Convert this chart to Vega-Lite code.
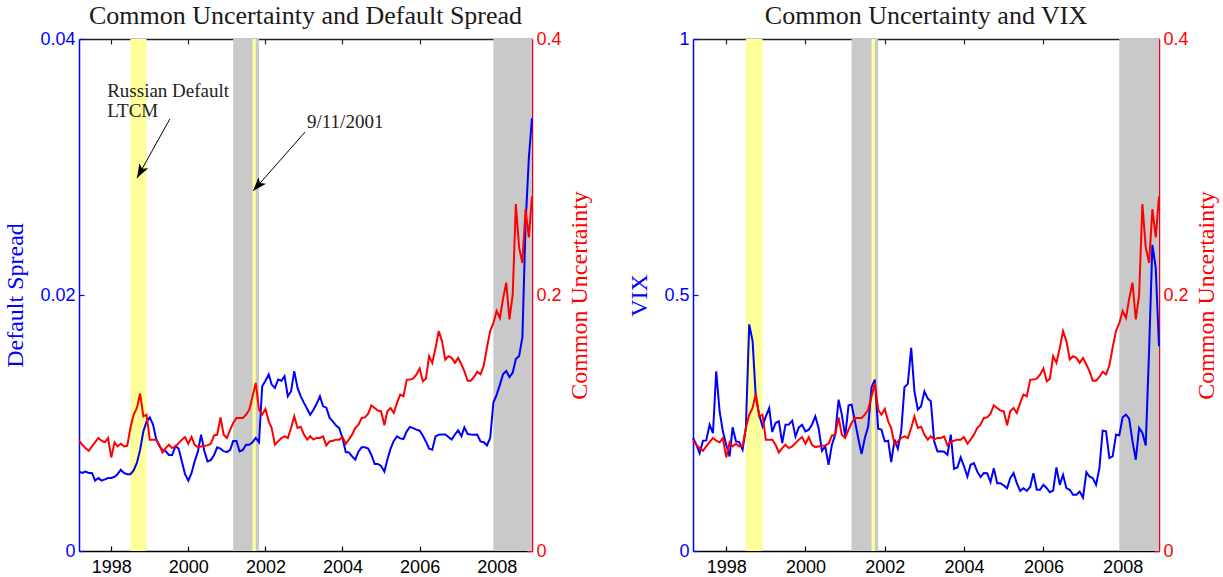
{
  "$schema": "https://vega.github.io/schema/vega-lite/v6.json",
  "background": "white",
  "padding": {"left": 3, "top": 3, "right": 2, "bottom": 2},
  "datasets": {
    "series": [
      {"d":"1997-03","ds":0.0062,"cu":0.0862,"vix":0.2206},
      {"d":"1997-04","ds":0.0061,"cu":0.083,"vix":0.2076},
      {"d":"1997-05","ds":0.0062,"cu":0.0804,"vix":0.191},
      {"d":"1997-06","ds":0.0061,"cu":0.0783,"vix":0.2154},
      {"d":"1997-07","ds":0.0061,"cu":0.0817,"vix":0.216},
      {"d":"1997-08","ds":0.0055,"cu":0.0851,"vix":0.2467},
      {"d":"1997-09","ds":0.0057,"cu":0.0883,"vix":0.23},
      {"d":"1997-10","ds":0.0055,"cu":0.0862,"vix":0.351},
      {"d":"1997-11","ds":0.0056,"cu":0.0849,"vix":0.273},
      {"d":"1997-12","ds":0.0057,"cu":0.0883,"vix":0.2337},
      {"d":"1998-01","ds":0.0057,"cu":0.0731,"vix":0.2076},
      {"d":"1998-02","ds":0.0058,"cu":0.0849,"vix":0.1847},
      {"d":"1998-03","ds":0.006,"cu":0.0817,"vix":0.2415},
      {"d":"1998-04","ds":0.00635,"cu":0.0838,"vix":0.214},
      {"d":"1998-05","ds":0.0061,"cu":0.0817,"vix":0.2128},
      {"d":"1998-06","ds":0.006,"cu":0.0822,"vix":0.1978},
      {"d":"1998-07","ds":0.006,"cu":0.0961,"vix":0.2402},
      {"d":"1998-08","ds":0.0063,"cu":0.1065,"vix":0.4426},
      {"d":"1998-09","ds":0.0069,"cu":0.1117,"vix":0.41},
      {"d":"1998-10","ds":0.0079,"cu":0.123,"vix":0.299},
      {"d":"1998-11","ds":0.00935,"cu":0.1052,"vix":0.2663},
      {"d":"1998-12","ds":0.0101,"cu":0.1065,"vix":0.2435},
      {"d":"1999-01","ds":0.01044,"cu":0.087,"vix":0.263},
      {"d":"1999-02","ds":0.00987,"cu":0.087,"vix":0.279},
      {"d":"1999-03","ds":0.0088,"cu":0.087,"vix":0.2324},
      {"d":"1999-04","ds":0.0082,"cu":0.083,"vix":0.25},
      {"d":"1999-05","ds":0.0079,"cu":0.077,"vix":0.2533},
      {"d":"1999-06","ds":0.00778,"cu":0.0804,"vix":0.2108},
      {"d":"1999-07","ds":0.0075,"cu":0.083,"vix":0.2467},
      {"d":"1999-08","ds":0.0075,"cu":0.0804,"vix":0.247},
      {"d":"1999-09","ds":0.0082,"cu":0.0817,"vix":0.2546},
      {"d":"1999-10","ds":0.008,"cu":0.0843,"vix":0.2239},
      {"d":"1999-11","ds":0.007,"cu":0.087,"vix":0.2415},
      {"d":"1999-12","ds":0.006,"cu":0.089,"vix":0.2467},
      {"d":"2000-01","ds":0.0055,"cu":0.0838,"vix":0.2337},
      {"d":"2000-02","ds":0.0061,"cu":0.089,"vix":0.237},
      {"d":"2000-03","ds":0.007,"cu":0.083,"vix":0.2467},
      {"d":"2000-04","ds":0.00778,"cu":0.0812,"vix":0.263},
      {"d":"2000-05","ds":0.00909,"cu":0.0817,"vix":0.2402},
      {"d":"2000-06","ds":0.0078,"cu":0.0822,"vix":0.1958},
      {"d":"2000-07","ds":0.007,"cu":0.0825,"vix":0.2043},
      {"d":"2000-08","ds":0.0071,"cu":0.0838,"vix":0.1684},
      {"d":"2000-09","ds":0.0075,"cu":0.0903,"vix":0.2076},
      {"d":"2000-10","ds":0.0081,"cu":0.0909,"vix":0.2272},
      {"d":"2000-11","ds":0.008,"cu":0.1044,"vix":0.2957},
      {"d":"2000-12","ds":0.0078,"cu":0.0909,"vix":0.2663},
      {"d":"2001-01","ds":0.00773,"cu":0.0883,"vix":0.2239},
      {"d":"2001-02","ds":0.0079,"cu":0.0948,"vix":0.2846},
      {"d":"2001-03","ds":0.0086,"cu":0.1,"vix":0.2859},
      {"d":"2001-04","ds":0.0086,"cu":0.1039,"vix":0.2533},
      {"d":"2001-05","ds":0.00778,"cu":0.1039,"vix":0.2206},
      {"d":"2001-06","ds":0.0079,"cu":0.1039,"vix":0.1893},
      {"d":"2001-07","ds":0.0083,"cu":0.1065,"vix":0.2206},
      {"d":"2001-08","ds":0.0083,"cu":0.1104,"vix":0.2435},
      {"d":"2001-09","ds":0.0085,"cu":0.1209,"vix":0.32},
      {"d":"2001-10","ds":0.00883,"cu":0.1313,"vix":0.3349},
      {"d":"2001-11","ds":0.0085,"cu":0.1104,"vix":0.2389},
      {"d":"2001-12","ds":0.01287,"cu":0.1065,"vix":0.237},
      {"d":"2002-01","ds":0.0133,"cu":0.111,"vix":0.214},
      {"d":"2002-02","ds":0.01379,"cu":0.1013,"vix":0.2154},
      {"d":"2002-03","ds":0.013,"cu":0.0961,"vix":0.1736},
      {"d":"2002-04","ds":0.01274,"cu":0.083,"vix":0.2174},
      {"d":"2002-05","ds":0.0134,"cu":0.0856,"vix":0.1997},
      {"d":"2002-06","ds":0.0133,"cu":0.0883,"vix":0.2337},
      {"d":"2002-07","ds":0.01366,"cu":0.0896,"vix":0.32},
      {"d":"2002-08","ds":0.01209,"cu":0.0883,"vix":0.3264},
      {"d":"2002-09","ds":0.01248,"cu":0.0961,"vix":0.3969},
      {"d":"2002-10","ds":0.01405,"cu":0.1052,"vix":0.312},
      {"d":"2002-11","ds":0.01274,"cu":0.0961,"vix":0.276},
      {"d":"2002-12","ds":0.0121,"cu":0.0971,"vix":0.2826},
      {"d":"2003-01","ds":0.01157,"cu":0.0909,"vix":0.312},
      {"d":"2003-02","ds":0.0111,"cu":0.087,"vix":0.2977},
      {"d":"2003-03","ds":0.01065,"cu":0.0896,"vix":0.2924},
      {"d":"2003-04","ds":0.01104,"cu":0.087,"vix":0.214},
      {"d":"2003-05","ds":0.0115,"cu":0.0883,"vix":0.1945},
      {"d":"2003-06","ds":0.01209,"cu":0.0883,"vix":0.195},
      {"d":"2003-07","ds":0.0113,"cu":0.0896,"vix":0.194},
      {"d":"2003-08","ds":0.0112,"cu":0.0825,"vix":0.188},
      {"d":"2003-09","ds":0.0104,"cu":0.0856,"vix":0.2272},
      {"d":"2003-10","ds":0.01013,"cu":0.0862,"vix":0.1606},
      {"d":"2003-11","ds":0.0098,"cu":0.087,"vix":0.1632},
      {"d":"2003-12","ds":0.0096,"cu":0.087,"vix":0.1828},
      {"d":"2004-01","ds":0.00883,"cu":0.089,"vix":0.1651},
      {"d":"2004-02","ds":0.00773,"cu":0.0838,"vix":0.1456},
      {"d":"2004-03","ds":0.0077,"cu":0.087,"vix":0.1684},
      {"d":"2004-04","ds":0.00739,"cu":0.0909,"vix":0.1717},
      {"d":"2004-05","ds":0.00713,"cu":0.0961,"vix":0.1554},
      {"d":"2004-06","ds":0.00778,"cu":0.0987,"vix":0.1443},
      {"d":"2004-07","ds":0.0081,"cu":0.1039,"vix":0.1521},
      {"d":"2004-08","ds":0.0081,"cu":0.1044,"vix":0.152},
      {"d":"2004-09","ds":0.008,"cu":0.1073,"vix":0.1345},
      {"d":"2004-10","ds":0.0075,"cu":0.1138,"vix":0.1619},
      {"d":"2004-11","ds":0.00679,"cu":0.1117,"vix":0.1325},
      {"d":"2004-12","ds":0.0068,"cu":0.1097,"vix":0.1325},
      {"d":"2005-01","ds":0.00665,"cu":0.1091,"vix":0.128},
      {"d":"2005-02","ds":0.00621,"cu":0.0982,"vix":0.1227},
      {"d":"2005-03","ds":0.00713,"cu":0.1091,"vix":0.1423},
      {"d":"2005-04","ds":0.008,"cu":0.1117,"vix":0.1521},
      {"d":"2005-05","ds":0.0086,"cu":0.1078,"vix":0.1325},
      {"d":"2005-06","ds":0.00896,"cu":0.1157,"vix":0.1175},
      {"d":"2005-07","ds":0.0088,"cu":0.1222,"vix":0.1227},
      {"d":"2005-08","ds":0.00875,"cu":0.1209,"vix":0.1175},
      {"d":"2005-09","ds":0.00935,"cu":0.1337,"vix":0.125},
      {"d":"2005-10","ds":0.00969,"cu":0.1339,"vix":0.1521},
      {"d":"2005-11","ds":0.0096,"cu":0.1347,"vix":0.1195},
      {"d":"2005-12","ds":0.00948,"cu":0.1378,"vix":0.1195},
      {"d":"2006-01","ds":0.0094,"cu":0.1426,"vix":0.1292},
      {"d":"2006-02","ds":0.009,"cu":0.1326,"vix":0.1227},
      {"d":"2006-03","ds":0.00856,"cu":0.1345,"vix":0.1149},
      {"d":"2006-04","ds":0.008,"cu":0.1522,"vix":0.118},
      {"d":"2006-05","ds":0.00791,"cu":0.147,"vix":0.1632},
      {"d":"2006-06","ds":0.00896,"cu":0.1587,"vix":0.1292},
      {"d":"2006-07","ds":0.00909,"cu":0.1718,"vix":0.1488},
      {"d":"2006-08","ds":0.0091,"cu":0.164,"vix":0.1227},
      {"d":"2006-09","ds":0.0091,"cu":0.1496,"vix":0.1195},
      {"d":"2006-10","ds":0.0089,"cu":0.1522,"vix":0.1097},
      {"d":"2006-11","ds":0.0087,"cu":0.1509,"vix":0.11},
      {"d":"2006-12","ds":0.0091,"cu":0.147,"vix":0.1162},
      {"d":"2007-01","ds":0.00943,"cu":0.1509,"vix":0.1044},
      {"d":"2007-02","ds":0.00896,"cu":0.1457,"vix":0.154},
      {"d":"2007-03","ds":0.00966,"cu":0.1405,"vix":0.1456},
      {"d":"2007-04","ds":0.00914,"cu":0.133,"vix":0.1423},
      {"d":"2007-05","ds":0.0091,"cu":0.133,"vix":0.1292},
      {"d":"2007-06","ds":0.00909,"cu":0.136,"vix":0.1619},
      {"d":"2007-07","ds":0.0091,"cu":0.14,"vix":0.235},
      {"d":"2007-08","ds":0.00856,"cu":0.138,"vix":0.2337},
      {"d":"2007-09","ds":0.0085,"cu":0.145,"vix":0.1815},
      {"d":"2007-10","ds":0.00825,"cu":0.159,"vix":0.1847},
      {"d":"2007-11","ds":0.00883,"cu":0.172,"vix":0.2272},
      {"d":"2007-12","ds":0.0116,"cu":0.178,"vix":0.2259},
      {"d":"2008-01","ds":0.0122,"cu":0.1875,"vix":0.2611},
      {"d":"2008-02","ds":0.013,"cu":0.182,"vix":0.2663},
      {"d":"2008-03","ds":0.0138,"cu":0.197,"vix":0.2585},
      {"d":"2008-04","ds":0.01406,"cu":0.2097,"vix":0.214},
      {"d":"2008-05","ds":0.01359,"cu":0.181,"vix":0.1782},
      {"d":"2008-06","ds":0.01393,"cu":0.2,"vix":0.2402},
      {"d":"2008-07","ds":0.015,"cu":0.271,"vix":0.2304},
      {"d":"2008-08","ds":0.01523,"cu":0.237,"vix":0.2063},
      {"d":"2008-09","ds":0.0167,"cu":0.225,"vix":0.394},
      {"d":"2008-10","ds":0.0255,"cu":0.267,"vix":0.598},
      {"d":"2008-11","ds":0.0307,"cu":0.245,"vix":0.553},
      {"d":"2008-12","ds":0.0338,"cu":0.277,"vix":0.4}
    ],
    "bands": [
      {"start":"2001-03-01","end":"2001-11-01","kind":"recession"},
      {"start":"2007-12-01","end":"2008-12-01","kind":"recession"},
      {"start":"1998-07-01","end":"1998-12-01","kind":"event"},
      {"start":"2001-09-01","end":"2001-10-01","kind":"event"}
    ],
    "notes": [
      {"d":"1997-11-23","v":0.03547,"label":"Russian Default"},
      {"d":"1997-11-23","v":0.0339,"label":"LTCM"},
      {"d":"2003-01-30","v":0.03305,"label":"9/11/2001"}
    ],
    "arrows": [
      {"name":"ltcm","from":"1999-07-10","fy":0.03375,"to":"1998-09-02","ty":0.02914},
      {"name":"wtc","from":"2003-01-11","fy":0.03273,"to":"2001-09-06","ty":0.028125}
    ]
  },
  "spacing": 35,
  "hconcat": [
    {
      "width": 453,
      "height": 512,
      "title": {"text": "Common Uncertainty and Default Spread"},
      "resolve": {"scale": {"y": "independent"}, "axis": {"x": "independent"}},
      "layer": [
        {
          "data": {"name": "bands"},
          "mark": {"type": "rect"},
          "encoding": {
            "x": {"field": "start", "type": "temporal",
                  "scale": {"type": "utc", "domain": [{"year":1997,"month":3,"date":1,"utc":true},{"year":2008,"month":12,"date":1,"utc":true}], "nice": false},
                  "axis": {"orient": "top", "labels": false, "title": null, "domainColor": "#222", "tickColor": "#222", "tickCount": {"interval": "year", "step": 2}}},
            "x2": {"field": "end"},
            "color": {"field": "kind", "type": "nominal", "scale": {"domain": ["recession", "event"], "range": ["#c9c9c9", "#ffff99"]}, "legend": null}
          }
        },
        {
          "data": {"name": "series"},
          "mark": {"type": "line", "color": "#0000ff", "strokeWidth": 2},
          "encoding": {
            "x": {"field": "d", "type": "temporal",
                  "scale": {"type": "utc", "domain": [{"year":1997,"month":3,"date":1,"utc":true},{"year":2008,"month":12,"date":1,"utc":true}], "nice": false},
                  "axis": {"orient": "bottom", "title": null, "format": "%Y", "domainColor": "#000", "tickColor": "#000", "labelColor": "#000", "labelPadding": 12, "tickCount": {"interval": "year", "step": 2}}},
            "y": {"field": "ds", "type": "quantitative", "scale": {"domain": [0, 0.04], "nice": false},
                  "axis": {"orient": "left", "values": [0, 0.02, 0.04], "format": "~g", "title": "Default Spread",
                           "domainColor": "#0000ff", "tickColor": "#0000ff", "labelColor": "#0000ff", "titleColor": "#0000ff", "titlePadding": 12}}
          }
        },
        {
          "data": {"name": "series"},
          "mark": {"type": "line", "color": "#ff0000", "strokeWidth": 2},
          "encoding": {
            "x": {"field": "d", "type": "temporal", "axis": null},
            "y": {"field": "cu", "type": "quantitative", "scale": {"domain": [0, 0.4], "nice": false},
                  "axis": {"orient": "right", "values": [0, 0.2, 0.4], "format": "~g", "title": "Common Uncertainty", "titleAngle": 270, "titleBaseline": "top",
                           "domainColor": "#e0002a", "tickColor": "#ff0000", "labelColor": "#ff0000", "titleColor": "#ff0000", "titlePadding": 6}}
          }
        },
        {
          "data": {"name": "notes"},
          "mark": {"type": "text", "font": "Liberation Serif", "fontSize": 19, "color": "#222", "align": "left", "baseline": "alphabetic"},
          "encoding": {
            "x": {"field": "d", "type": "temporal", "axis": null},
            "y": {"field": "v", "type": "quantitative", "scale": {"domain": [0, 0.04], "nice": false}, "axis": null},
            "text": {"field": "label"}
          }
        },
        {
          "data": {"name": "arrows"},
          "mark": {"type": "rule", "color": "#000", "strokeWidth": 1},
          "encoding": {
            "x": {"field": "from", "type": "temporal", "axis": null},
            "x2": {"field": "to"},
            "y": {"field": "fy", "type": "quantitative", "scale": {"domain": [0, 0.04], "nice": false}, "axis": null},
            "y2": {"field": "ty"}
          }
        },
        {
          "data": {"name": "arrows"},
          "transform": [{"filter": "datum.name === 'ltcm'"}],
          "mark": {"type": "point", "shape": "M0,0L0.5,1.4L0,1.05L-0.5,1.4Z", "filled": true, "color": "#000", "opacity": 1, "size": 400, "angle": 209},
          "encoding": {
            "x": {"field": "to", "type": "temporal", "axis": null},
            "y": {"field": "ty", "type": "quantitative", "scale": {"domain": [0, 0.04], "nice": false}, "axis": null}
          }
        },
        {
          "data": {"name": "arrows"},
          "transform": [{"filter": "datum.name === 'wtc'"}],
          "mark": {"type": "point", "shape": "M0,0L0.5,1.4L0,1.05L-0.5,1.4Z", "filled": true, "color": "#000", "opacity": 1, "size": 400, "angle": 221},
          "encoding": {
            "x": {"field": "to", "type": "temporal", "axis": null},
            "y": {"field": "ty", "type": "quantitative", "scale": {"domain": [0, 0.04], "nice": false}, "axis": null}
          }
        }
      ]
    },
    {
      "width": 466,
      "height": 512,
      "title": {"text": "Common Uncertainty and VIX"},
      "resolve": {"scale": {"y": "independent"}, "axis": {"x": "independent"}},
      "layer": [
        {
          "data": {"name": "bands"},
          "mark": {"type": "rect"},
          "encoding": {
            "x": {"field": "start", "type": "temporal",
                  "scale": {"type": "utc", "domain": [{"year":1997,"month":3,"date":1,"utc":true},{"year":2008,"month":12,"date":1,"utc":true}], "nice": false},
                  "axis": {"orient": "top", "labels": false, "title": null, "domainColor": "#222", "tickColor": "#222", "tickCount": {"interval": "year", "step": 2}}},
            "x2": {"field": "end"},
            "color": {"field": "kind", "type": "nominal", "scale": {"domain": ["recession", "event"], "range": ["#c9c9c9", "#ffff99"]}, "legend": null}
          }
        },
        {
          "data": {"name": "series"},
          "mark": {"type": "line", "color": "#0000ff", "strokeWidth": 2},
          "encoding": {
            "x": {"field": "d", "type": "temporal",
                  "scale": {"type": "utc", "domain": [{"year":1997,"month":3,"date":1,"utc":true},{"year":2008,"month":12,"date":1,"utc":true}], "nice": false},
                  "axis": {"orient": "bottom", "title": null, "format": "%Y", "domainColor": "#000", "tickColor": "#000", "labelColor": "#000", "labelPadding": 12, "tickCount": {"interval": "year", "step": 2}}},
            "y": {"field": "vix", "type": "quantitative", "scale": {"domain": [0, 1], "nice": false},
                  "axis": {"orient": "left", "values": [0, 0.5, 1], "format": "~g", "title": "VIX",
                           "domainColor": "#0000ff", "tickColor": "#0000ff", "labelColor": "#0000ff", "titleColor": "#0000ff", "titlePadding": 12}}
          }
        },
        {
          "data": {"name": "series"},
          "mark": {"type": "line", "color": "#ff0000", "strokeWidth": 2},
          "encoding": {
            "x": {"field": "d", "type": "temporal", "axis": null},
            "y": {"field": "cu", "type": "quantitative", "scale": {"domain": [0, 0.4], "nice": false},
                  "axis": {"orient": "right", "values": [0, 0.2, 0.4], "format": "~g", "title": "Common Uncertainty", "titleAngle": 270, "titleBaseline": "top",
                           "domainColor": "#e0002a", "tickColor": "#ff0000", "labelColor": "#ff0000", "titleColor": "#ff0000", "titlePadding": 6}}
          }
        }
      ]
    }
  ],
  "config": {
    "view": {"stroke": null},
    "title": {"font": "Liberation Serif", "fontSize": 26, "fontWeight": "normal", "color": "#1a1a1a", "frame": "group", "anchor": "middle", "offset": 1},
    "axis": {
      "labelFont": "Liberation Sans", "labelFontSize": 18, "grid": false, "zindex": 1,
      "tickSize": -5, "tickWidth": 1.2, "labelPadding": 9, "domainWidth": 1.5,
      "titleFont": "Liberation Serif", "titleFontSize": 24, "titleFontWeight": "normal",
      "labelFlush": false, "labelOverlap": false
    },
    "line": {"strokeJoin": "miter"}
  }
}
